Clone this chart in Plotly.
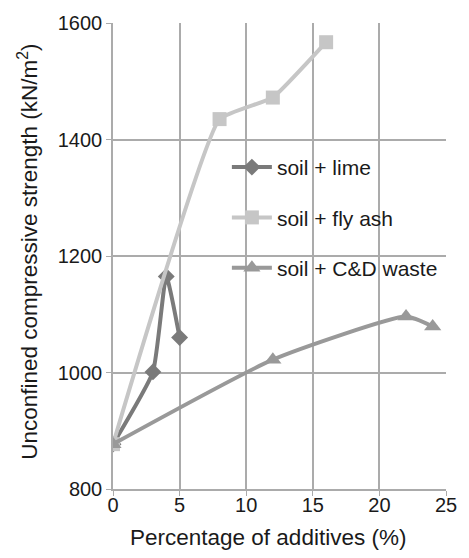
import plotly.graph_objects as go

# Additive content (%) and unconfined compressive strength (kN/m²)
lime_x = [0, 3, 4, 5]
lime_y = [877, 1001, 1165, 1060]

flyash_x = [0, 8, 12, 16]
flyash_y = [877, 1435, 1472, 1567]

cdw_x = [0, 12, 22, 24]
cdw_y = [877, 1022, 1096, 1079]

x_ticks = [0, 5, 10, 15, 20, 25]
y_ticks = [800, 1000, 1200, 1400, 1600]

x_title = "Percentage of additives (%)"
y_title = "Unconfined compressive strength (kN/m<sup>2</sup>)"

fig = go.Figure()

fig.add_trace(go.Scatter(
    x=lime_x, y=lime_y, name="soil + lime", mode="lines+markers", legendgroup="a",
    line=dict(color="#7a7a7a", width=4, shape="spline", smoothing=0.45),
    marker=dict(symbol="diamond", size=13, color="#7a7a7a"),
))
fig.add_trace(go.Scatter(
    x=flyash_x, y=flyash_y, name="soil + fly ash", mode="lines+markers", legendgroup="b",
    line=dict(color="#c6c6c6", width=4, shape="spline", smoothing=0.35),
    marker=dict(symbol="square", size=14, color="#c6c6c6"),
))
fig.add_trace(go.Scatter(
    x=cdw_x, y=cdw_y, name="soil + C&D waste", mode="lines+markers", legendgroup="c",
    line=dict(color="#999999", width=4, shape="spline", smoothing=0.5),
    marker=dict(symbol="triangle-up", size=15, color="#999999"),
))

font_family = "Liberation Sans, Arial, sans-serif"
axis_style = dict(
    showgrid=True, gridcolor="#ababab", gridwidth=1.5,
    showline=True, linecolor="#ababab", linewidth=1.5,
    ticks="outside", ticklen=5, tickcolor="#ababab", zeroline=False,
)

fig.update_layout(
    width=469, height=558,
    margin=dict(l=113, r=16, t=21, b=69),
    plot_bgcolor="white", paper_bgcolor="white",
    font=dict(family=font_family, size=20, color="#1a1a1a"),
    showlegend=True,
    legend=dict(
        x=0.342, y=0.734, xanchor="left", yanchor="top",
        bgcolor="rgba(0,0,0,0)", font=dict(size=21),
        tracegroupgap=20, itemwidth=40,
    ),
    xaxis=dict(range=[0, 25], tickvals=x_ticks, ticklabelstandoff=-8, **axis_style),
    yaxis=dict(range=[800, 1600], tickvals=y_ticks, **axis_style),
    annotations=[
        dict(text=x_title, xref="paper", yref="paper", x=(271 - 113) / 340,
             y=-(538 - 489) / 468, xanchor="center", yanchor="middle",
             showarrow=False, font=dict(size=22.5)),
        dict(text=y_title, xref="paper", yref="paper", x=-(113 - 26) / 340,
             y=(489 - 251) / 468, xanchor="center", yanchor="middle",
             textangle=-90, showarrow=False, font=dict(size=22.5)),
    ],
)

fig.write_html("out.html")
